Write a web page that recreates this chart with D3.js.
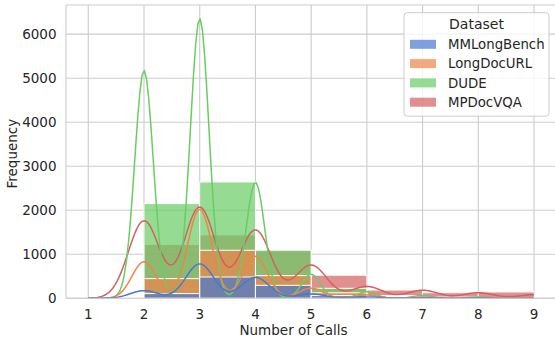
<!DOCTYPE html>
<html><head><meta charset="utf-8">
<script src="https://cdn.jsdelivr.net/npm/d3@7"></script>
<style>
body{margin:0;background:#fff;}
svg text{font-family:"DejaVu Sans",sans-serif;fill:#262626;}
</style>
</head><body><svg id="chart" width="555" height="337"></svg>
<script>
// ---- data (counts of each number of calls, per dataset) ----
const callValues = [1, 2, 3, 4, 5, 6, 7, 8, 9];
const seriesNames = ["MMLongBench", "LongDocURL", "DUDE", "MPDocVQA"];
const seriesColors = ["#4878d0", "#ee854a", "#6acc64", "#d65f5f"];
const mmlongbenchCounts = [1, 107, 484, 295, 62, 20, 8, 4, 2];
const longdocurlCounts = [1, 447, 1091, 515, 125, 40, 15, 8, 4];
const dudeCounts = [2, 2152, 2643, 1095, 227, 62, 28, 12, 5];
const mpdocvqaCounts = [2, 1225, 1440, 1080, 525, 188, 127, 87, 57];
const binEdges = [1, 2, 3, 4, 5, 6, 7, 8, 9];
const xTicks = [1, 2, 3, 4, 5, 6, 7, 8, 9];
const yTicks = [0, 1000, 2000, 3000, 4000, 5000, 6000];
const xLabel = "Number of Calls";
const yLabel = "Frequency";
const legendTitle = "Dataset";

const allCounts = [mmlongbenchCounts, longdocurlCounts, dudeCounts, mpdocvqaCounts];

// ---- derived: histogram + kde ----
function histogram(counts) {
  const nb = binEdges.length - 1;
  const out = [];
  for (let i = 0; i < nb; i++) {
    const lo = binEdges[i], hi = binEdges[i + 1];
    let c = 0;
    callValues.forEach((v, j) => {
      if (v >= lo && (v < hi || (i === nb - 1 && v <= hi))) c += counts[j];
    });
    out.push({x0: lo, x1: hi, count: c});
  }
  return out;
}
function kde(counts) {
  const n = d3.sum(counts);
  const mean = d3.sum(callValues.map((v, j) => v * counts[j])) / n;
  const variance = d3.sum(callValues.map((v, j) => counts[j] * (v - mean) ** 2)) / (n - 1);
  const h = Math.sqrt(variance) * Math.pow(n, -1 / 5);
  const present = callValues.filter((v, j) => counts[j] > 0);
  const lo = d3.min(present), hi = d3.max(present);
  const pts = [];
  const gs = 200;
  for (let i = 0; i < gs; i++) {
    const x = lo + (hi - lo) * i / (gs - 1);
    let y = 0;
    callValues.forEach((v, j) => {
      y += counts[j] * Math.exp(-0.5 * ((x - v) / h) ** 2) / (h * Math.sqrt(2 * Math.PI));
    });
    pts.push([x, y]);
  }
  return pts;
}
const hists = allCounts.map(histogram);
const kdes = allCounts.map(kde);

const dataMax = d3.max([
  d3.max(hists, hs => d3.max(hs, d => d.count)),
  d3.max(kdes, ks => d3.max(ks, p => p[1]))
]);

// ---- layout ----
const svg = d3.select("#chart");
const L = 66, R = 556.3, T = 5, B = 298.3;
const x = d3.scaleLinear().domain([0.6, 9.4]).range([L, R]);
const y = d3.scaleLinear().domain([0, dataMax * 1.05]).range([B, T]);

svg.append("defs").append("clipPath").attr("id", "clip")
  .append("rect").attr("x", L).attr("y", T).attr("width", R - L).attr("height", B - T);

// grid
const grid = svg.append("g");
grid.selectAll(".gx").data(xTicks).join("line")
  .attr("x1", d => x(d)).attr("x2", d => x(d)).attr("y1", T).attr("y2", B)
  .attr("stroke", "#cccccc").attr("stroke-width", 1.1);
grid.selectAll(".gy").data(yTicks).join("line")
  .attr("x1", L).attr("x2", R).attr("y1", d => y(d)).attr("y2", d => y(d))
  .attr("stroke", "#cccccc").attr("stroke-width", 1.1);

const plot = svg.append("g").attr("clip-path", "url(#clip)");
const alpha = 0.7;
// bars: drawn in reverse hue order (first level ends on top)
const order = [3, 2, 1, 0];
order.forEach(si => {
  plot.append("g").selectAll("rect").data(hists[si]).join("rect")
    .attr("x", d => x(d.x0)).attr("width", d => x(d.x1) - x(d.x0))
    .attr("y", d => y(d.count)).attr("height", d => y(0) - y(d.count))
    .attr("fill", seriesColors[si]).attr("fill-opacity", alpha)
    .attr("stroke", "#ffffff").attr("stroke-width", 1);
});
const line = d3.line().x(p => x(p[0])).y(p => y(p[1])).curve(d3.curveLinear);
order.forEach(si => {
  plot.append("path").datum(kdes[si]).attr("d", line)
    .attr("fill", "none").attr("stroke", seriesColors[si]).attr("stroke-width", 1.5)
    .attr("stroke-linejoin", "round");
});

// spines
const sp = svg.append("g").attr("stroke", "#cccccc").attr("stroke-width", 1.1);
sp.append("line").attr("x1", L).attr("x2", L).attr("y1", T).attr("y2", B);
sp.append("line").attr("x1", L).attr("x2", R).attr("y1", B).attr("y2", B);
sp.append("line").attr("x1", L).attr("x2", R).attr("y1", T).attr("y2", T);

// tick labels
svg.append("g").selectAll("text").data(xTicks).join("text")
  .attr("x", d => x(d)).attr("y", 318.5).attr("text-anchor", "middle")
  .attr("font-size", 13.5).text(d => d);
svg.append("g").selectAll("text").data(yTicks).join("text")
  .attr("x", 56.5).attr("y", d => y(d)).attr("dy", "0.36em").attr("text-anchor", "end")
  .attr("font-size", 13.5).text(d => d);

svg.append("text").attr("x", 293.5).attr("y", 335).attr("text-anchor", "middle")
  .attr("font-size", 13.5).text(xLabel);
svg.append("text").attr("transform", `translate(17,${(T + B) / 2 + 2}) rotate(-90)`)
  .attr("text-anchor", "middle").attr("font-size", 13.5).text(yLabel);

// legend
const lg = svg.append("g");
lg.append("rect").attr("x", 404).attr("y", 12.7).attr("width", 145).attr("height", 103.5)
  .attr("rx", 3.5).attr("fill", "#ffffff").attr("fill-opacity", 0.8)
  .attr("stroke", "#cccccc").attr("stroke-width", 1);
lg.append("text").attr("x", 476.5).attr("y", 23.5).attr("dy", "0.36em")
  .attr("text-anchor", "middle").attr("font-size", 14).text(legendTitle);
seriesNames.forEach((name, i) => {
  const cy = 44.3 + i * 19.3;
  lg.append("rect").attr("x", 410).attr("y", cy - 4.5).attr("width", 26).attr("height", 9)
    .attr("fill", seriesColors[i]).attr("fill-opacity", alpha);
  lg.append("text").attr("x", 448).attr("y", cy).attr("dy", "0.36em")
    .attr("font-size", 13.3).text(name);
});
</script>
</body></html>
